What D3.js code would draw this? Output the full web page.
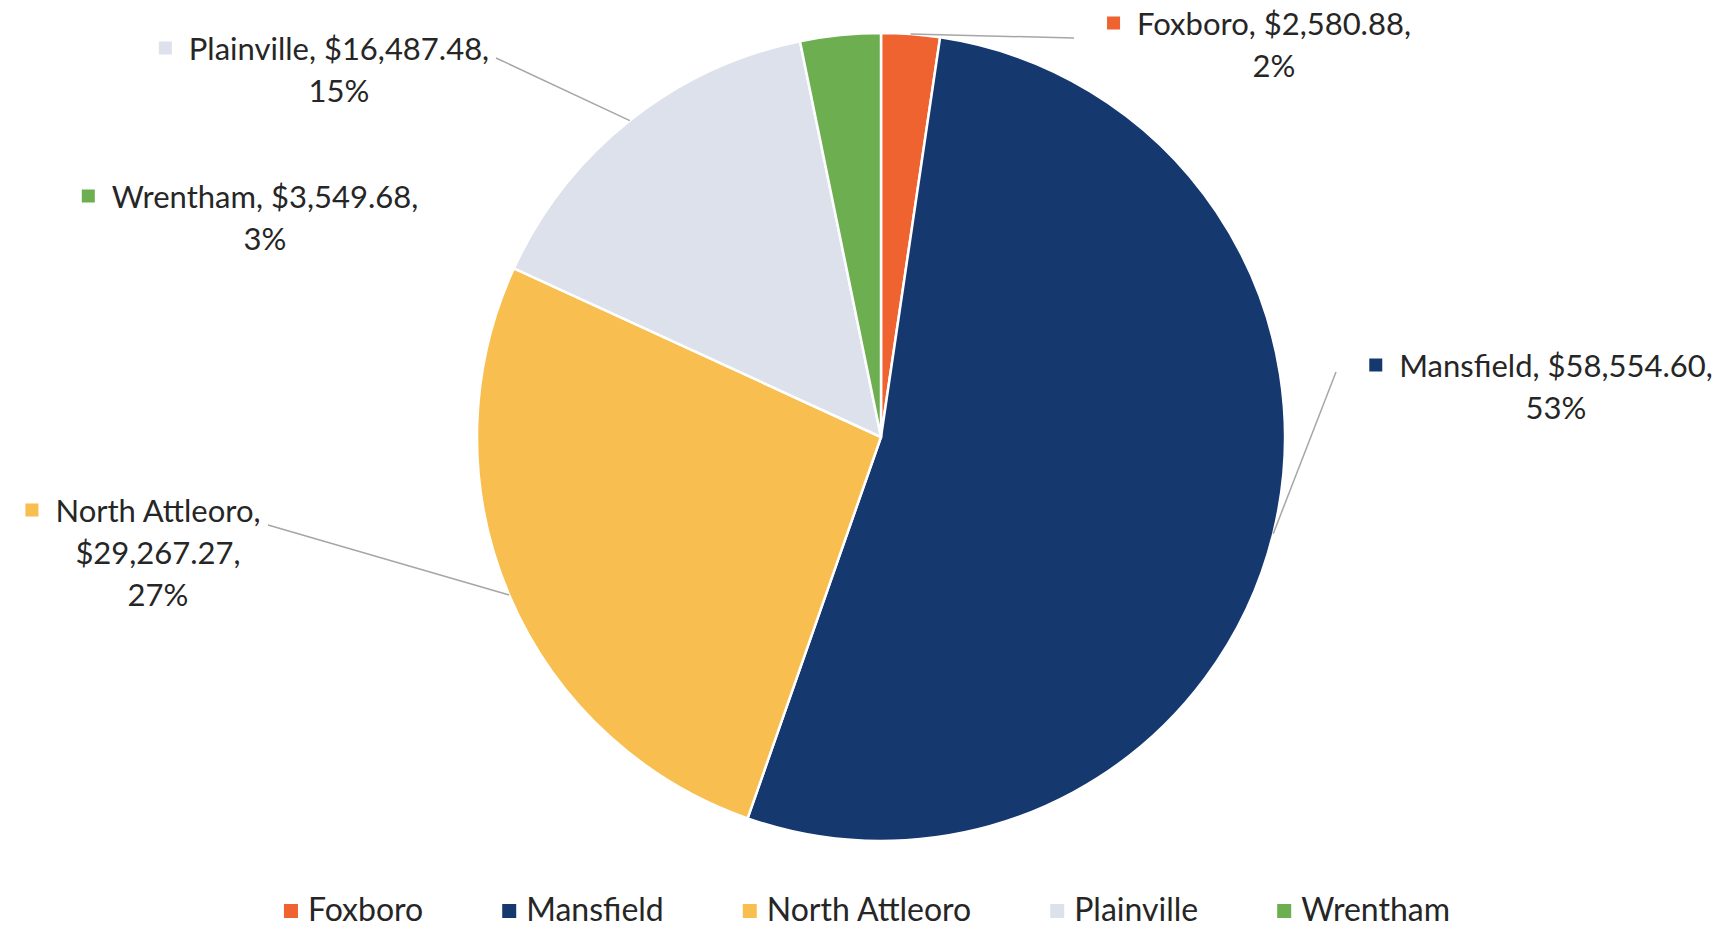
<!DOCTYPE html>
<html>
<head>
<meta charset="utf-8">
<script src="https://cdn.jsdelivr.net/npm/d3@7/dist/d3.min.js"></script>
<style>
  html, body { margin: 0; padding: 0; background: #ffffff; }
  svg { display: block; }
  text { font-family: Lato, "Open Sans", sans-serif; fill: #262626; }
</style>
</head>
<body>
<svg id="chart" width="1725" height="929"></svg>
<script>
// ---- data ----
const categories = ["Foxboro", "Mansfield", "North Attleoro", "Plainville", "Wrentham"];
const values = [2580.88, 58554.60, 29267.27, 16487.48, 3549.68];
const percentLabels = ["2%", "53%", "27%", "15%", "3%"];
const colors = ["#EF6330", "#15386F", "#F8BE4F", "#DCE1EB", "#6CAE50"];

// ---- layout (not data) ----
const W = 1725, H = 929;
const cx = 881, cy = 437, R = 404;
const labelFont = 31, legendFont = 32, lineH = 42;
// label block: centre x, first baseline, leader end point (or null)
const labelLayout = [
  { x: 1274, y: 35,  lead: [1074, 38] },
  { x: 1556, y: 377, lead: [1336, 372] },
  { x: 158,  y: 522, lead: [268, 525] },
  { x: 339,  y: 60,  lead: [496, 58] },
  { x: 265,  y: 208, lead: null }
];

const fmt = d3.format("$,.2f");
const rows = categories.map((c, i) => ({ name: c, value: values[i], pct: percentLabels[i], color: colors[i], i }));

const svg = d3.select("#chart");
const color = d3.scaleOrdinal().domain(categories).range(colors);

const pie = d3.pie().sort(null).value(d => d.value).startAngle(0).endAngle(2 * Math.PI);
const arcs = pie(rows);
const arc = d3.arc().innerRadius(0).outerRadius(R);

const g = svg.append("g").attr("transform", `translate(${cx},${cy})`);
g.selectAll("path.slice").data(arcs).enter().append("path")
  .attr("class", "slice")
  .attr("d", arc)
  .attr("fill", d => color(d.data.name))
  .attr("stroke", "#ffffff")
  .attr("stroke-width", 2.5)
  .attr("stroke-linejoin", "round");

// leader lines
arcs.forEach((a, i) => {
  const L = labelLayout[i];
  if (!L.lead) return;
  const mid = (a.startAngle + a.endAngle) / 2;
  const px = cx + R * Math.sin(mid), py = cy - R * Math.cos(mid);
  svg.append("line")
    .attr("x1", px).attr("y1", py)
    .attr("x2", L.lead[0]).attr("y2", L.lead[1])
    .attr("stroke", "#A6A6A6").attr("stroke-width", 1.5);
});

// data labels
rows.forEach((d, i) => {
  const L = labelLayout[i];
  let lines;
  if (d.name === "North Attleoro") lines = [d.name + ",", fmt(d.value) + ",", d.pct];
  else lines = [d.name + ", " + fmt(d.value) + ",", d.pct];
  const t = svg.append("text")
    .attr("text-anchor", "middle")
    .style("font-size", labelFont + "px");
  lines.forEach((ln, k) => {
    t.append("tspan").attr("x", L.x).attr("y", L.y + k * lineH).text(ln);
  });
  const bb = t.node().getBBox();
  const s = 13;
  svg.append("rect")
    .attr("x", bb.x - 30).attr("y", L.y - 11 - s / 2 - 1)
    .attr("width", s).attr("height", s)
    .attr("fill", d.color);
});

// legend
const legY = 921, sq = 14, sqGap = 10, itemGap = 79;
const legend = svg.append("g");
const items = legend.selectAll("g.item").data(rows).enter().append("g").attr("class", "item");
items.append("rect").attr("width", sq).attr("height", sq).attr("y", legY - 17).attr("fill", d => d.color);
items.append("text").attr("x", sq + sqGap).attr("y", legY)
  .style("font-size", legendFont + "px").text(d => d.name);
let xpos = 0;
items.each(function () {
  d3.select(this).attr("transform", `translate(${xpos},0)`);
  xpos += this.getBBox().width + itemGap;
});
const total = xpos - itemGap;
legend.attr("transform", `translate(${867 - total / 2},0)`);
</script>
</body>
</html>
